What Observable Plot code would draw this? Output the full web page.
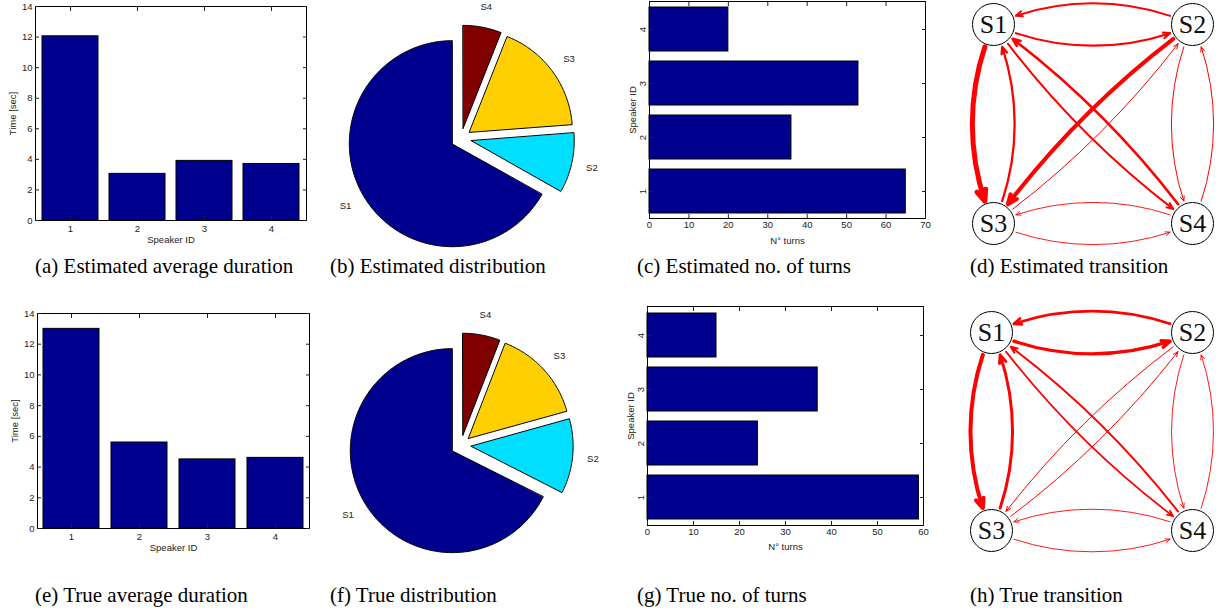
<!DOCTYPE html>
<html><head><meta charset="utf-8">
<script src="https://cdn.jsdelivr.net/npm/d3@7"></script>
<script src="https://cdn.jsdelivr.net/npm/@observablehq/plot@0.6"></script>
<style>
body{margin:0;background:#fff;}
#fig{position:relative;width:1221px;height:613px;overflow:hidden;background:#fff;}
.cap{position:absolute;font-family:"Liberation Serif","Times New Roman",serif;font-size:21px;color:#000;white-space:nowrap;line-height:24px;}
</style></head><body><div id="fig"></div>
<script>
// ---------------- data ----------------
const speakers = ["1", "2", "3", "4"];
const speakerNames = ["S1", "S2", "S3", "S4"];
const estDuration = [12.05, 3.05, 3.9, 3.7];
const trueDuration = [13.0, 5.6, 4.5, 4.6];
const estTurns = [65, 36, 53, 20];
const trueTurns = [59, 24, 37, 15];
const estShare = [66.8, 9.4, 17.8, 6.0];
const trueShare = [67.5, 11.8, 14.8, 5.9];
const durationTicks = [0, 2, 4, 6, 8, 10, 12, 14];
const estTurnTicks = [0, 10, 20, 30, 40, 50, 60, 70];
const trueTurnTicks = [0, 10, 20, 30, 40, 50, 60];
const pieColors = ["#00008F", "#00DFFF", "#FFCF00", "#800000"];
const nodeX = [0, 1, 0, 1];
const nodeY = [1, 1, 0, 0];
// transition strengths (row = from, column = to)
const estTransition = [
  [0, 2.2, 5.0, 2.0],
  [2.0, 0, 4.0, 1.0],
  [2.3, 1.0, 0, 0.9],
  [2.7, 1.0, 0.9, 0]
];
const trueTransition = [
  [0, 3.3, 4.0, 1.7],
  [2.7, 0, 1.0, 0.9],
  [3.0, 1.0, 0, 0.9],
  [2.0, 0.9, 0.9, 0]
];
const captionTexts = [
  "(a) Estimated average duration", "(b) Estimated distribution",
  "(c) Estimated no. of turns", "(d) Estimated transition",
  "(e) True average duration", "(f) True distribution",
  "(g) True no. of turns", "(h) True transition"
];

// ---------------- helpers ----------------
const fig = document.getElementById("fig");
const axisStyle = {fontFamily: "'Liberation Sans', Arial, sans-serif", fontSize: "9.5px", color: "#222", background: "white", overflow: "visible"};
function place(el, left, top) {
  el.style.position = "absolute";
  el.style.left = left + "px";
  el.style.top = top + "px";
  fig.appendChild(el);
}

function vbar(values, o) {
  const data = speakers.map((s, i) => ({id: s, v: values[i]}));
  return Plot.plot({
    width: o.w, height: o.h,
    marginLeft: o.ml, marginRight: o.mr, marginTop: o.mt, marginBottom: o.mb,
    style: axisStyle,
    x: {type: "band", domain: speakers, paddingInner: 0.17, paddingOuter: 0.085},
    y: {domain: [0, 14]},
    marks: [
      Plot.barY(data, {x: "id", y: "v", fill: "#00008F", stroke: "#000", strokeWidth: 1}),
      Plot.frame({stroke: "#000", strokeWidth: 1}),
      Plot.axisX({anchor: "bottom", tickSize: -4, tickPadding: o.xtp, label: "Speaker ID", labelAnchor: "center", labelOffset: o.xlo, labelArrow: "none"}),
      Plot.axisX({anchor: "top", tickSize: -4, tickFormat: () => "", label: null}),
      Plot.axisY(durationTicks, {anchor: "left", tickSize: -4, tickPadding: 7, label: "Time [sec]", labelAnchor: "center", labelOffset: o.ylo, labelArrow: "none"}),
      Plot.axisY(durationTicks, {anchor: "right", tickSize: -4, tickFormat: () => "", label: null})
    ]
  });
}

function hbar(values, ticks, o) {
  const data = speakers.map((s, i) => ({id: s, v: values[i]}));
  return Plot.plot({
    width: o.w, height: o.h,
    marginLeft: o.ml, marginRight: o.mr, marginTop: o.mt, marginBottom: o.mb,
    style: axisStyle,
    x: {domain: [0, ticks[ticks.length - 1]]},
    y: {type: "band", domain: speakers.slice().reverse(), paddingInner: 0.19, paddingOuter: 0.095},
    marks: [
      Plot.barX(data, {y: "id", x: "v", fill: "#00008F", stroke: "#000", strokeWidth: 1}),
      Plot.frame({stroke: "#000", strokeWidth: 1}),
      Plot.axisX(ticks, {anchor: "bottom", tickSize: -4, tickPadding: o.xtp, label: "N° turns", labelAnchor: "center", labelOffset: o.xlo, labelArrow: "none"}),
      Plot.axisX(ticks, {anchor: "top", tickSize: -4, tickFormat: () => "", label: null}),
      Plot.axisY({anchor: "left", tickSize: -4, tickPadding: 7.5, tickRotate: -90, label: "Speaker ID", labelAnchor: "center", labelOffset: o.ylo, labelArrow: "none"}),
      Plot.axisY({anchor: "right", tickSize: -4, tickFormat: () => "", label: null})
    ]
  });
}

function pie(shares, o) {
  const total = d3.sum(shares);
  const rows = [], labels = [];
  let acc = 0;
  shares.forEach((s, i) => {
    const a0 = acc / total * 2 * Math.PI; acc += s;
    const a1 = acc / total * 2 * Math.PI;
    const am = (a0 + a1) / 2;
    const ox = -0.1 * Math.sin(am), oy = 0.1 * Math.cos(am);
    const name = speakerNames[i];
    rows.push({slice: name, px: ox, py: oy});
    const n = Math.max(4, Math.ceil((a1 - a0) / 0.015));
    for (let k = 0; k <= n; k++) {
      const a = a0 + (a1 - a0) * k / n;
      rows.push({slice: name, px: ox - Math.sin(a), py: oy + Math.cos(a)});
    }
    labels.push({slice: name, px: -1.3 * Math.sin(am), py: 1.3 * Math.cos(am)});
  });
  return Plot.plot({
    width: o.w, height: o.h,
    marginLeft: o.ml, marginRight: o.mr, marginTop: o.mt, marginBottom: o.mb,
    style: axisStyle,
    x: {domain: [-1, 1], axis: null},
    y: {domain: [-1, 1], axis: null},
    color: {domain: speakerNames, range: pieColors},
    marks: [
      Plot.line(rows, {x: "px", y: "py", z: "slice", fill: "slice", stroke: "#000", strokeWidth: 1, curve: "linear-closed"}),
      Plot.text(labels, {x: "px", y: "py", text: "slice", fill: "#222"})
    ]
  });
}

function graph(matrix, o) {
  const nodes = speakerNames.map((n, i) => ({name: n, gx: nodeX[i], gy: nodeY[i]}));
  const edges = [];
  matrix.forEach((row, i) => row.forEach((w, j) => {
    if (i !== j && w > 0) edges.push({
      w, x1: nodeX[i], y1: nodeY[i], x2: nodeX[j], y2: nodeY[j],
      diag: nodeX[i] !== nodeX[j] && nodeY[i] !== nodeY[j]
    });
  }));
  const arrows = edges.map(e => Plot.arrow([e], {
    x1: "x1", y1: "y1", x2: "x2", y2: "y2",
    bend: e.diag ? -9 : -24,
    stroke: "#FF0000", strokeWidth: e.w,
    headLength: 1.5 * (3.5 / e.w + 1.7), headAngle: 45,
    insetStart: 24, insetEnd: 24
  }));
  return Plot.plot({
    width: o.w, height: o.h,
    marginLeft: o.ml, marginRight: o.mr, marginTop: o.mt, marginBottom: o.mb,
    style: axisStyle,
    x: {domain: [0, 1], axis: null},
    y: {domain: [0, 1], axis: null},
    marks: [
      ...arrows,
      Plot.dot(nodes, {x: "gx", y: "gy", r: 21, fill: "white", stroke: "#000", strokeWidth: 1}),
      Plot.text(nodes, {x: "gx", y: "gy", text: "name", fontSize: 26, fontFamily: "'Liberation Serif', 'Times New Roman', serif", fill: "#111"})
    ]
  });
}

// ---------------- panels ----------------
place(vbar(estDuration, {w: 320, h: 255, ml: 35, mr: 14, mt: 6, mb: 35, xtp: 9, xlo: 22, ylo: 26}), 0, 0);
place(pie(estShare, {w: 290, h: 255, ml: 37.7, mr: 46.3, mt: 35, mb: 14}), 320, 0);
place(hbar(estTurns, estTurnTicks, {w: 320, h: 255, ml: 29, mr: 15, mt: 1, mb: 37, xtp: 7, xlo: 25, ylo: 20.5}), 620, 0);
place(graph(estTransition, {w: 271, h: 250, ml: 43, mr: 29, mt: 24, mb: 27}), 950, 0);

place(vbar(trueDuration, {w: 320, h: 255, ml: 37, mr: 11, mt: 13, mb: 27, xtp: 9, xlo: 22, ylo: 26}), 0, 300);
place(pie(trueShare, {w: 290, h: 255, ml: 38.5, mr: 47.5, mt: 42.8, mb: 8.2}), 320, 300);
place(hbar(trueTurns, trueTurnTicks, {w: 320, h: 255, ml: 27, mr: 17, mt: 6, mb: 30, xtp: 7, xlo: 24, ylo: 20.5}), 620, 300);
place(graph(trueTransition, {w: 271, h: 260, ml: 41, mr: 29, mt: 32, mb: 30}), 950, 300);

// ---------------- captions ----------------
const capX = [35, 330, 637, 970];
const capY = [254, 583];
captionTexts.forEach((t, i) => {
  const d = document.createElement("div");
  d.className = "cap";
  d.textContent = t;
  d.style.left = capX[i % 4] + "px";
  d.style.top = capY[Math.floor(i / 4)] + "px";
  fig.appendChild(d);
});
</script>
</body></html>
